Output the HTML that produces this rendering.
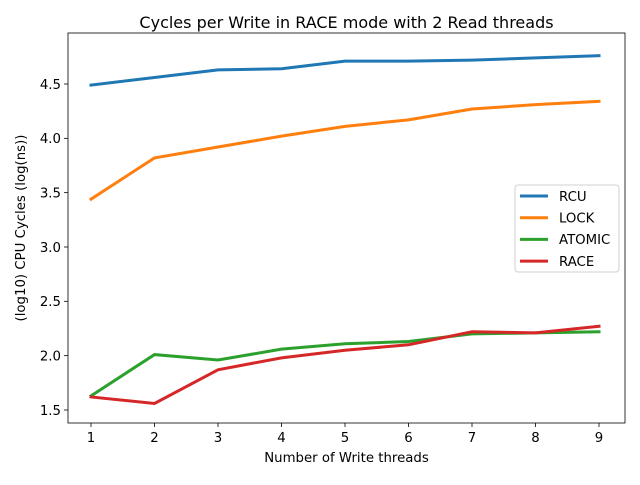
<!DOCTYPE html>
<html><head><meta charset="utf-8"><style>
body{margin:0;background:#fff;font-family:"Liberation Sans","DejaVu Sans",sans-serif;}
svg text{font-family:"DejaVu Sans","Liberation Sans",sans-serif;}
</style></head><body>
<svg id="chart" width="640" height="480" xmlns="http://www.w3.org/2000/svg">
<rect width="640" height="480" fill="#fff"/>
<g id="plot"></g>
</svg>
<script>
const categories=[1,2,3,4,5,6,7,8,9];
const rcu=[4.49,4.56,4.63,4.64,4.71,4.71,4.72,4.74,4.76];
const lock=[3.44,3.82,3.92,4.02,4.11,4.17,4.27,4.31,4.34];
const atomic=[1.63,2.01,1.96,2.06,2.11,2.13,2.20,2.21,2.22];
const race=[1.62,1.56,1.87,1.98,2.05,2.10,2.22,2.21,2.27];
const yTicks=[1.5,2.0,2.5,3.0,3.5,4.0,4.5];
const seriesNames=["RCU","LOCK","ATOMIC","RACE"];
const colors=["#1f77b4","#ff7f0e","#2ca02c","#d62728"];
const L=68,R=625,T=33,B=423;
const x=v=>91+(v-1)*63.5;
const y=v=>410-(v-1.5)*108.67;
const NS="http://www.w3.org/2000/svg";
const g=document.getElementById('plot');
function mk(t,a,txt){const e=document.createElementNS(NS,t);for(const k in a)e.setAttribute(k,a[k]);if(txt!==undefined)e.textContent=txt;g.appendChild(e);return e;}
categories.forEach(c=>{
 const l=mk('line',{x1:x(c),x2:x(c),y1:B,y2:B+4,stroke:'#000','stroke-width':0.8});
 
 
 const t=mk('text',{x:x(c),y:B+19,'font-size':13.3,'text-anchor':'middle'},String(c));
 
 
});
yTicks.forEach(v=>{
 const l=mk('line',{x1:L-4,x2:L,y1:y(v),y2:y(v),stroke:'#000','stroke-width':0.8});
 
 
 const t=mk('text',{x:L-7,y:y(v)+4.8,'font-size':13.3,'text-anchor':'end'},v.toFixed(1));
 
 
});
[rcu,lock,atomic,race].forEach((s,i)=>{
 const p=mk('polyline',{points:s.map((v,j)=>x(categories[j])+','+y(v)).join(' '),fill:'none',stroke:colors[i],'stroke-width':3,'stroke-linecap':'square'});
 
 
});
const fr=mk('rect',{x:L,y:T,width:R-L,height:B-T,fill:'none',stroke:'#000','stroke-width':0.8});


const ti=mk('text',{x:(L+R)/2,y:28,'font-size':16,'text-anchor':'middle'},'Cycles per Write in RACE mode with 2 Read threads');


const xt=mk('text',{x:(L+R)/2,y:462,'font-size':13.3,'text-anchor':'middle'},'Number of Write threads');


const yt=mk('text',{x:0,y:0,'font-size':13.3,'text-anchor':'middle',transform:'translate(25,'+((T+B)/2)+') rotate(-90)'},'(log10) CPU Cycles (log(ns))');


const lg=mk('rect',{x:515,y:185,width:104,height:87,rx:3,fill:'#fff',stroke:'#ccc','stroke-width':1,opacity:0.9});


seriesNames.forEach((n,i)=>{
 const yy=196+i*21.7;
 const l=mk('line',{x1:520,x2:548,y1:yy,y2:yy,stroke:colors[i],'stroke-width':3});
 
 
 const t=mk('text',{x:559,y:yy+4.8,'font-size':13.3},n);
 
 
});
</script>
</body></html>
